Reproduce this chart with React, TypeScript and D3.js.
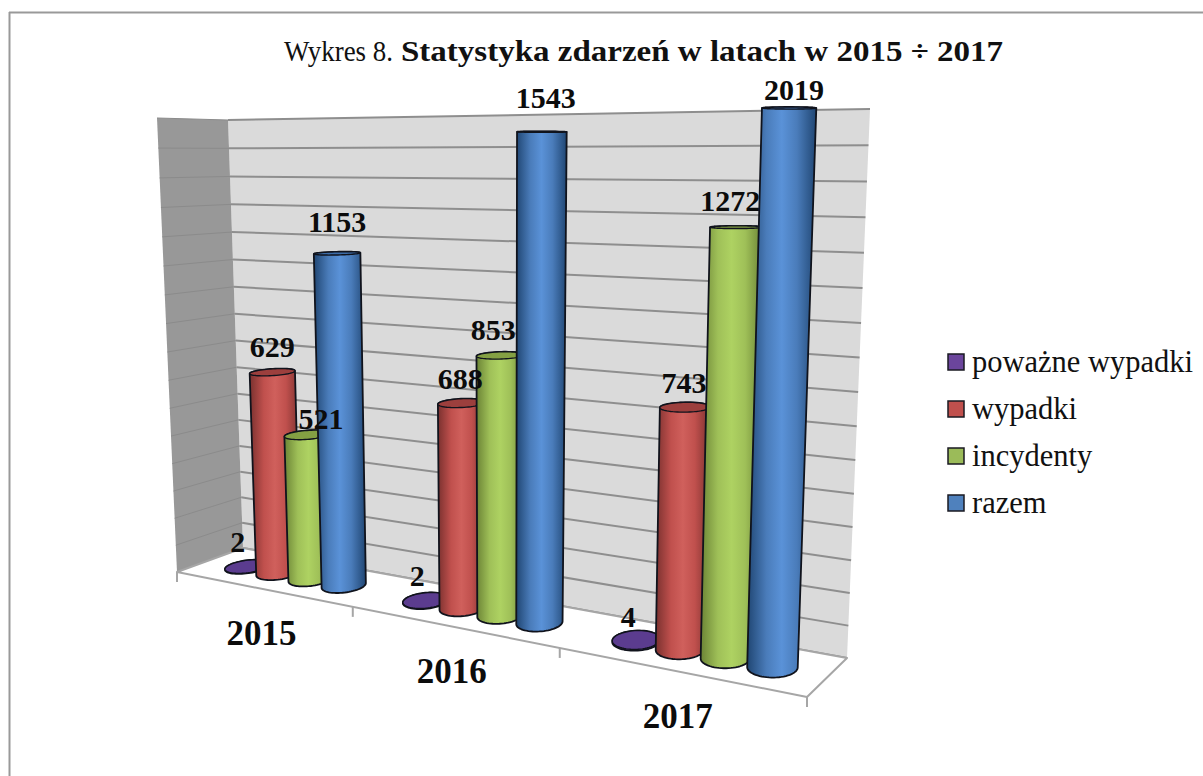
import React from "react";
import * as d3 from "d3";

const years = ["2015", "2016", "2017"];
const seriesNames = ["poważne wypadki", "wypadki", "incydenty", "razem"];
// drawn heights (the red 2015 bar stands taller than its label says)
const powazne = [2, 2, 4];
const wypadki = [730, 688, 743];
const incydenty = [521, 853, 1272];
const razem = [1153, 1543, 2019];
// printed data labels
const powazneLabels = ["2", "2", "4"];
const wypadkiLabels = ["629", "688", "743"];
const incydentyLabels = ["521", "853", "1272"];
const razemLabels = ["1153", "1543", "2019"];
const axisMax = 1600;
const axisStep = 100;

const W = 1203, H = 776;
const FONT = "'Liberation Serif', serif";

// perspective box: floor and ceiling corners of the plot
type P = [number, number];
const floor = { fl: [177, 572] as P, fr: [807, 697] as P, bl: [243, 548] as P, br: [847, 658] as P };
const ceil = { fl: [157, 118] as P, fr: [824, 105] as P, bl: [228, 120] as P, br: [870, 109] as P };
const XB = -0.226, VB = -0.06;
const warpX = (t: number) => ((1 + XB) * t) / (1 + XB * t);
const warpV = (u: number) => ((1 + VB) * u) / (1 + VB * u);
const uScale = d3.scaleLinear().domain([0, axisMax]).range([0, 1]).clamp(true);
const lerp = (a: P, b: P, k: number): P => [a[0] + (b[0] - a[0]) * k, a[1] + (b[1] - a[1]) * k];
const plane = (c: typeof floor, t: number, z: number): P => {
  const f = warpX(t);
  return lerp(lerp(c.fl, c.fr, f), lerp(c.bl, c.br, f), z);
};
const project = (t: number, v: number, z: number): P =>
  lerp(plane(floor, t, z), plane(ceil, t, z), warpV(uScale(v)));

const BAR_STEP = 0.0625, R_T = 0.03, R_Z = 0.25;
const barT = (g: number, s: number) => (g + 0.5) / 3 + (s - 1.5) * BAR_STEP + 0.003;
const ring = (t: number, v: number): P[] =>
  d3.range(0, 64).map((i) => {
    const a = (i / 64) * 2 * Math.PI;
    return project(t + R_T * Math.cos(a), v, 0.5 + R_Z * Math.sin(a));
  });
const pathOf = (pts: P[]) => d3.line()(pts) + "Z";

const seriesValues = [powazne, wypadki, incydenty, razem];
const seriesLabels = [powazneLabels, wypadkiLabels, incydentyLabels, razemLabels];
const palette = [
  { edge: "#4a2f78", body: "#5f3d92", mid: "#6c48a0", top: "#5b3c8f", key: "#6b459c" },
  { edge: "#7f3331", body: "#c0504d", mid: "#d0605c", top: "#9c3f3d", key: "#c0504d" },
  { edge: "#6f8838", body: "#9fc058", mid: "#aed262", top: "#84a043", key: "#9bbb59" },
  { edge: "#234a78", body: "#4a7cba", mid: "#5a92d8", top: "#3c6ba6", key: "#4f81bd" },
];
// label nudges from the top of each bar [series][year] => [dx, dy]
const nudges: P[][] = [
  [[-9, -14], [-8, -14], [-8, -13]],
  [[0, -15], [-1, -14], [-1, -14]],
  [[14, -6], [-7, -15], [-6, -16]],
  [[0, -21], [4, -24], [5, -8]],
];
const LEG_X = 948, LEG_Y = 354, LEG_STEP = 47;

export default function App() {
  const ticks = d3.range(0, axisMax + axisStep, axisStep);
  return (
    <svg width={W} height={H} style={{ position: "absolute", left: 0, top: 0, background: "#fff" }} fontFamily={FONT}>
      <defs>
        {palette.map((c, i) => (
          <linearGradient key={i} id={`g${i}`} x1="0" x2="1" y1="0" y2="0">
            <stop offset="0.02" stopColor={c.edge} />
            <stop offset="0.28" stopColor={c.body} />
            <stop offset="0.5" stopColor={c.mid} />
            <stop offset="0.72" stopColor={c.body} />
            <stop offset="0.98" stopColor={c.edge} />
          </linearGradient>
        ))}
      </defs>
      <line x1={9.5} x2={9.5} y1={12} y2={H} stroke="#999" strokeWidth={2} />
      <line x1={9} x2={W} y1={12.5} y2={12.5} stroke="#999" strokeWidth={2} />

      <text y={61} fill="#111" fontSize={30}>
        <tspan x={284} textLength={109} lengthAdjust="spacingAndGlyphs">Wykres 8.</tspan>
        <tspan x={401} fontWeight="bold" textLength={602} lengthAdjust="spacingAndGlyphs">Statystyka zdarzeń w latach w 2015 ÷ 2017</tspan>
      </text>

      {/* walls */}
      <path d={pathOf([floor.bl, floor.br, ceil.br, ceil.bl])} fill="#dadada" />
      <path d={pathOf([floor.fl, floor.bl, ceil.bl, ceil.fl])} fill="#989898" />
      {ticks.map((v) => (
        <g key={v}>
          <line x1={project(0, v, 1)[0]} y1={project(0, v, 1)[1]} x2={project(1, v, 1)[0]} y2={project(1, v, 1)[1]} stroke="#8e8e8e" strokeWidth={2} />
          <line x1={project(0, v, 0)[0]} y1={project(0, v, 0)[1]} x2={project(0, v, 1)[0]} y2={project(0, v, 1)[1]} stroke="#8b8b8b" strokeWidth={1} />
        </g>
      ))}
      {/* floor */}
      <path d={pathOf([floor.fl, floor.fr, floor.br, floor.bl])} fill="#fff" stroke="#a6a6a6" strokeWidth={2} strokeLinejoin="round" />
      {[0, 1, 2, 3].map((g) => {
        const p = project(g / 3, 0, 0);
        return <line key={g} x1={p[0]} x2={p[0]} y1={p[1]} y2={p[1] + 10} stroke="#a6a6a6" strokeWidth={2} />;
      })}

      {/* cylinders */}
      {years.map((_, g) =>
        seriesValues.map((vals, s) => {
          const t = barT(g, s);
          const bottom = ring(t, 0);
          const top = ring(t, vals[g]);
          const hull = d3.polygonHull([...bottom, ...top] as [number, number][]) as P[];
          return (
            <g key={`${g}-${s}`} stroke="#10131c" strokeWidth={1.8} strokeLinejoin="round">
              <path d={pathOf(hull)} fill={`url(#g${s})`} />
              <path d={pathOf(top)} fill={palette[s].top} strokeWidth={1.4} />
            </g>
          );
        })
      )}

      {/* data labels */}
      {years.map((_, g) =>
        seriesValues.map((vals, s) => {
          const [x, y] = project(barT(g, s), vals[g], 0.5);
          const [dx, dy] = nudges[s][g];
          return (
            <text key={`${g}-${s}`} x={x + dx} y={y + dy} textAnchor="middle" fontWeight="bold" fontSize={30} fill="#0c0c0c">
              {seriesLabels[s][g]}
            </text>
          );
        })
      )}

      {/* category labels */}
      {years.map((y, g) => {
        const p = project((g + 0.5) / 3, 0, 0);
        return (
          <text key={y} x={p[0]} y={p[1] + 56.5} textAnchor="middle" fontWeight="bold" fontSize={35} fill="#0c0c0c">
            {y}
          </text>
        );
      })}

      {/* legend */}
      {seriesNames.map((n, i) => (
        <g key={n}>
          <rect x={LEG_X} y={LEG_Y + i * LEG_STEP} width={16} height={16} fill={palette[i].key} stroke="#1a1a22" strokeWidth={1.5} />
          <text x={LEG_X + 24} y={LEG_Y + 18 + i * LEG_STEP} fontSize={30.5} fill="#111">{n}</text>
        </g>
      ))}
    </svg>
  );
}
